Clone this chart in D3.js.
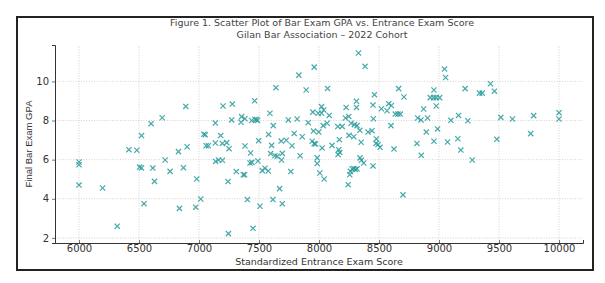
<!DOCTYPE html>
<html>
<head>
<meta charset="utf-8">
<script src="https://cdn.jsdelivr.net/npm/d3@7"></script>
<style>
  body { margin: 0; background: #fff; }
  svg { display: block; }
</style>
</head>
<body>
<svg id="chart"></svg>
<script>
var width = 605, height = 283

// data
var scores = [
    6000, 6000, 6000, 6197, 6319, 6416, 6482, 6521, 6505, 6520, 6542, 6601, 6693, 6890, 6718, 6615, 6629, 6759,
    6829, 6901, 6870, 6837, 6973, 6981, 7015, 7040, 7052, 7059, 7078, 7136, 7136, 7139, 7163, 7195, 7181, 7195,
    7231, 7250, 7200, 7278, 7272, 7355, 7383, 7350, 7439, 7466, 7480, 7488, 7464, 7641, 7591, 7745, 7619, 7580,
    7497, 7383, 7430, 7605, 7685, 7727, 7597, 7633, 7652, 7694, 7688, 7425, 7441, 7491, 7311, 7369, 7380, 7242,
    7527, 7550, 7577, 7672, 7694, 7765, 7403, 7508, 7616, 7450, 7245, 7960, 7832, 7893, 8071, 8021, 7949, 7993,
    8021, 8040, 8085, 8226, 8220, 8248, 7818, 7910, 8068, 8035, 8157, 8193, 7793, 7860, 7775, 7954, 7998, 7943,
    7960, 7971, 8026, 8109, 8165, 8173, 8159, 8250, 7843, 7985, 7985, 8007, 8043, 8243, 8170, 8329, 8384, 8462,
    8450, 8312, 8312, 8267, 8295, 8317, 8340, 8290, 8351, 8409, 8442, 8478, 8475, 8492, 8509, 8453, 8520, 8567,
    8581, 8603, 8600, 8625, 8664, 8708, 8636, 8658, 8678, 8342, 8373, 8353, 8450, 8276, 8290, 8303, 8317, 8256,
    8262, 8700, 9046, 9055, 8958, 8927, 8955, 8977, 9005, 8977, 8872, 8822, 8850, 8905, 8894, 8988, 8816, 8958,
    9071, 8852, 9218, 9099, 9163, 9240, 9157, 9182, 9277, 9338, 9360, 9429, 9462, 9515, 9612, 9789, 9482, 9764,
    10000, 10000
]
var gpas = [
    5.88, 5.74, 4.70, 4.55, 2.60, 6.51, 6.48, 7.23, 5.62, 5.58, 3.75, 7.84, 8.14, 8.72, 5.98, 5.57, 4.89, 5.40,
    6.41, 6.66, 5.59, 3.51, 3.57, 5.01, 3.99, 7.30, 7.27, 6.71, 6.71, 7.87, 6.85, 5.91, 5.98, 5.97, 7.23, 6.83,
    6.87, 6.56, 8.74, 8.84, 8.03, 8.20, 8.09, 7.91, 8.00, 8.05, 8.05, 8.00, 9.01, 9.68, 8.37, 8.03, 7.74, 7.29,
    6.97, 6.70, 6.34, 6.73, 6.95, 6.99, 6.31, 6.20, 6.17, 6.32, 5.98, 5.83, 5.86, 5.93, 5.39, 5.23, 5.23, 4.88,
    5.44, 5.56, 5.42, 4.52, 3.75, 5.39, 3.96, 3.62, 3.96, 2.49, 2.22, 10.73, 10.32, 9.56, 9.64, 8.71, 8.43, 8.37,
    8.37, 8.54, 8.26, 8.67, 8.13, 8.21, 8.08, 7.89, 7.86, 7.74, 7.69, 7.70, 7.34, 7.17, 6.71, 7.46, 7.41, 6.94,
    6.82, 6.80, 6.60, 6.73, 6.51, 6.37, 6.26, 7.24, 6.20, 6.09, 5.80, 5.32, 5.01, 4.72, 7.02, 11.45, 10.77, 9.32,
    8.79, 8.98, 8.67, 7.86, 7.79, 7.74, 7.50, 7.17, 6.89, 7.41, 7.48, 7.06, 6.83, 6.77, 6.63, 8.09, 8.60, 8.50,
    8.86, 8.77, 7.74, 6.54, 9.63, 9.20, 8.33, 8.33, 8.33, 6.09, 5.83, 5.97, 5.68, 5.52, 5.55, 5.50, 5.53, 5.23,
    5.40, 4.20, 10.63, 10.20, 9.56, 9.17, 9.17, 9.17, 9.17, 8.74, 8.59, 8.13, 8.03, 8.13, 7.41, 7.57, 6.83, 6.94,
    6.90, 6.22, 9.63, 8.01, 8.26, 7.99, 7.07, 6.49, 5.98, 9.40, 9.40, 9.88, 9.50, 8.16, 8.08, 8.25, 7.04, 7.33,
    8.40, 8.08
]
var xTicks = [6000, 6500, 7000, 7500, 8000, 8500, 9000, 9500, 10000]
var yTicks = [2, 4, 6, 8, 10]

var points = scores.map(function(s, i) { return {score: s, gpa: gpas[i]} })

var svg = d3.select("#chart")
    .attr("width", width)
    .attr("height", height)

svg.append("rect")
    .attr("width", width)
    .attr("height", height)
    .attr("fill", "#fff")

// outer frame
svg.append("rect")
    .attr("x", 17)
    .attr("y", 17)
    .attr("width", 576)
    .attr("height", 253)
    .attr("fill", "none")
    .attr("stroke", "#222")
    .attr("stroke-width", 2)

var margin = {left: 55, right: 22, top: 45, bottom: 40}

var x = d3.scaleLinear()
    .domain([5800, 10200])
    .range([margin.left, width - margin.right])

var y = d3.scaleLinear()
    .domain([1.74, 11.86])
    .range([height - margin.bottom, margin.top])

// grid
var grid = svg.append("g")
    .attr("stroke", "#c8c8c8")
    .attr("stroke-width", 0.8)
    .attr("stroke-dasharray", "1,1.6")

grid.selectAll(".gx")
    .data(xTicks)
    .enter()
    .append("line")
    .attr("x1", d => x(d)).attr("x2", d => x(d))
    .attr("y1", y.range()[0]).attr("y2", y.range()[1])

grid.selectAll(".gy")
    .data(yTicks)
    .enter()
    .append("line")
    .attr("y1", d => y(d)).attr("y2", d => y(d))
    .attr("x1", x.range()[0]).attr("x2", x.range()[1])

// axes
var xAxis = svg.append("g")
    .attr("transform", "translate(0," + y.range()[0] + ")")
    .call(d3.axisBottom(x).tickValues(xTicks).tickSize(-3).tickPadding(2).tickFormat(d3.format("d")))

var yAxis = svg.append("g")
    .attr("transform", "translate(" + x.range()[0] + ",0)")
    .call(d3.axisLeft(y).tickValues(yTicks).tickSize(3).tickPadding(3).tickFormat(d3.format("d")))

svg.selectAll(".domain")
    .attr("stroke", "#333")
    .attr("stroke-width", 1)
svg.selectAll(".tick line")
    .attr("stroke", "#555")
    .attr("stroke-width", 0.8)
svg.selectAll(".tick text")
    .attr("fill", "#333")
    .style("font-family", "DejaVu Sans")
    .style("font-size", "10px")

// markers
var s = 2.6
var marks = svg.append("g")
    .attr("stroke", "#269a9a")
    .attr("stroke-opacity", 0.85)
    .attr("stroke-width", 1.2)
    .attr("fill", "none")

marks.selectAll("path")
    .data(points)
    .enter()
    .append("path")
    .attr("d", d => {
        var cx = x(d.score), cy = y(d.gpa)
        return "M" + (cx - s) + "," + (cy - s) + "L" + (cx + s) + "," + (cy + s) +
            "M" + (cx - s) + "," + (cy + s) + "L" + (cx + s) + "," + (cy - s)
    })

// titles and labels
svg.append("text")
    .attr("x", 322)
    .attr("y", 26)
    .attr("text-anchor", "middle")
    .attr("fill", "#444")
    .style("font-family", "DejaVu Sans")
    .style("font-size", "9.5px")
    .text("Figure 1. Scatter Plot of Bar Exam GPA vs. Entrance Exam Score")

svg.append("text")
    .attr("x", 322)
    .attr("y", 38)
    .attr("text-anchor", "middle")
    .attr("fill", "#444")
    .style("font-family", "DejaVu Sans")
    .style("font-size", "9.5px")
    .text("Gilan Bar Association – 2022 Cohort")

svg.append("text")
    .attr("x", 319)
    .attr("y", 265)
    .attr("text-anchor", "middle")
    .attr("fill", "#333")
    .style("font-family", "DejaVu Sans")
    .style("font-size", "9.5px")
    .text("Standardized Entrance Exam Score")

svg.append("text")
    .attr("transform", "translate(32,144) rotate(-90)")
    .attr("text-anchor", "middle")
    .attr("fill", "#333")
    .style("font-family", "Liberation Sans")
    .style("font-size", "9.5px")
    .text("Final Bar Exam GPA")
</script>
</body>
</html>
